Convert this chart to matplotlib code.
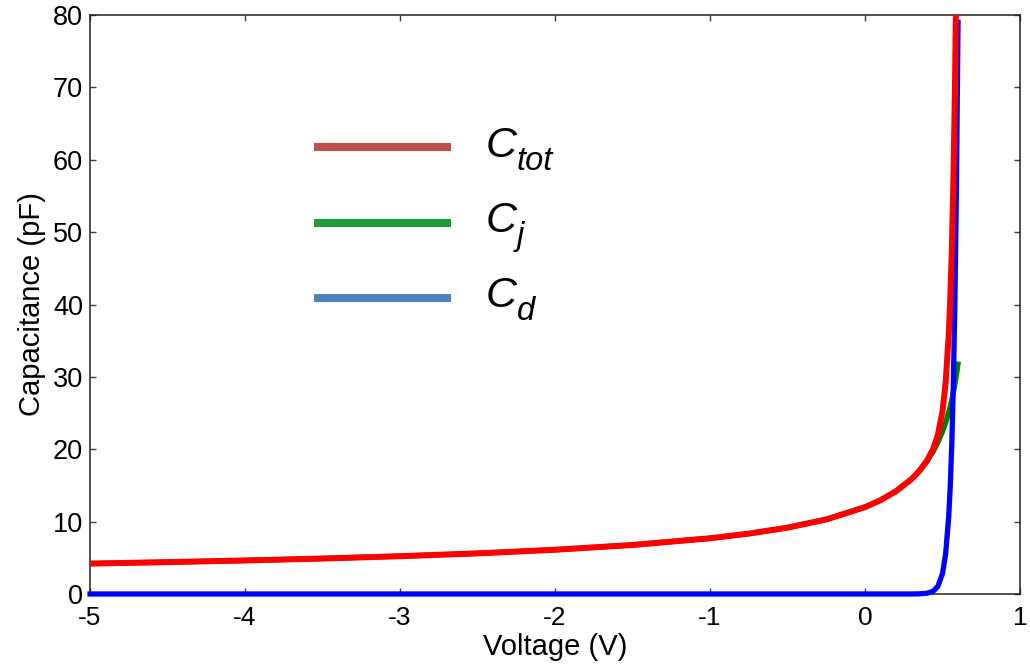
import matplotlib
matplotlib.use("Agg")
import matplotlib.pyplot as plt

# Bias voltage (V)
voltage = [-5.0, -4.5, -4.0, -3.5, -3.0, -2.5, -2.0, -1.5, -1.0, -0.75,
           -0.5, -0.25, 0.0, 0.1, 0.2, 0.3, 0.35, 0.4, 0.44, 0.47,
           0.5, 0.52, 0.54, 0.55, 0.56, 0.57, 0.58, 0.59, 0.6]

# Junction (depletion) capacitance, pF
c_j = [4.20, 4.40, 4.63, 4.90, 5.22, 5.61, 6.11, 6.77, 7.70, 8.34,
       9.17, 10.30, 12.00, 12.96, 14.20, 15.87, 16.97, 18.33, 19.69, 20.93,
       22.45, 23.66, 25.10, 25.92, 26.83, 27.85, 28.98, 30.27, 31.75]

# Diffusion capacitance, pF
c_d = [0.0, 0.0, 0.0, 0.0, 0.0, 0.0, 0.0, 0.0, 0.0, 0.0,
       0.0, 0.0, 0.0, 0.0, 0.0, 0.0, 0.02, 0.10, 0.38, 1.04,
       2.83, 5.50, 10.69, 14.90, 20.80, 29.10, 40.60, 56.60, 79.00]

# Total capacitance, pF
c_tot = [4.20, 4.40, 4.63, 4.90, 5.22, 5.61, 6.11, 6.77, 7.70, 8.34,
         9.17, 10.30, 12.00, 12.96, 14.20, 15.87, 16.99, 18.43, 20.07, 21.97,
         25.28, 29.16, 35.79, 40.82, 47.63, 56.95, 69.58, 86.87, 110.75]

x_ticks = [-5, -4, -3, -2, -1, 0, 1]
y_ticks = [0, 10, 20, 30, 40, 50, 60, 70, 80]

key_symbol = "C"
key_subscripts = ["tot", "j", "d"]

plt.rcParams["font.family"] = ["Liberation Sans", "DejaVu Sans"]

fig = plt.figure(figsize=(10.30, 6.65), dpi=100)
ax = fig.add_axes([0.0874, 0.1068, 0.9029, 0.8706])

ax.plot(voltage, c_j, color="#008000", lw=3.8, zorder=3)
ax.plot(voltage, c_d, color="#0000FF", lw=3.8, zorder=4, clip_on=False)
ax.plot(voltage, c_tot, color="#FF0000", lw=4.3, zorder=5)

ax.set_xlim(-5, 1)
ax.set_ylim(0, 80)
ax.set_xticks(x_ticks)
ax.set_yticks(y_ticks)
ax.set_xticklabels([str(t) for t in x_ticks], fontsize=19)
ax.set_yticklabels([str(t) for t in y_ticks], fontsize=19.5)
ax.tick_params(direction="in", length=4, width=1, color="#404040",
               top=True, right=True)
ax.tick_params(axis="x", pad=9)
ax.tick_params(axis="y", pad=5)
for s in ax.spines.values():
    s.set_linewidth(1.1)
    s.set_color("#202020")

ax.set_xlabel("Voltage (V)", fontsize=21, labelpad=2)
ax.set_ylabel("Capacitance (pF)", fontsize=21, labelpad=5)

# Key drawn as separate swatches with italic labels and subscripts
key_colors = ["#C0504D", "#1E9A38", "#4F81BD"]
key_line_y = [0.7715, 0.6402, 0.5107]
key_text_y = [0.7547, 0.6252, 0.4957]
renderer = fig.canvas.get_renderer()
for col, sub, ly, ty in zip(key_colors, key_subscripts, key_line_y, key_text_y):
    ax.plot([0.2409, 0.3882], [ly, ly], transform=ax.transAxes, color=col,
            lw=5.8, solid_capstyle="butt", zorder=6)
    main = ax.text(0.425, ty, key_symbol, transform=ax.transAxes, fontsize=31,
                   style="italic", ha="left", va="baseline", zorder=6)
    bb = main.get_window_extent(renderer)
    ax.annotate(sub, xy=(bb.x1, 0), xycoords=("figure pixels", main),
                xytext=(0.5, -3), textcoords="offset points",
                fontsize=23.5, style="italic", ha="left", va="baseline",
                zorder=6)

fig.savefig("out.png", dpi=100)
